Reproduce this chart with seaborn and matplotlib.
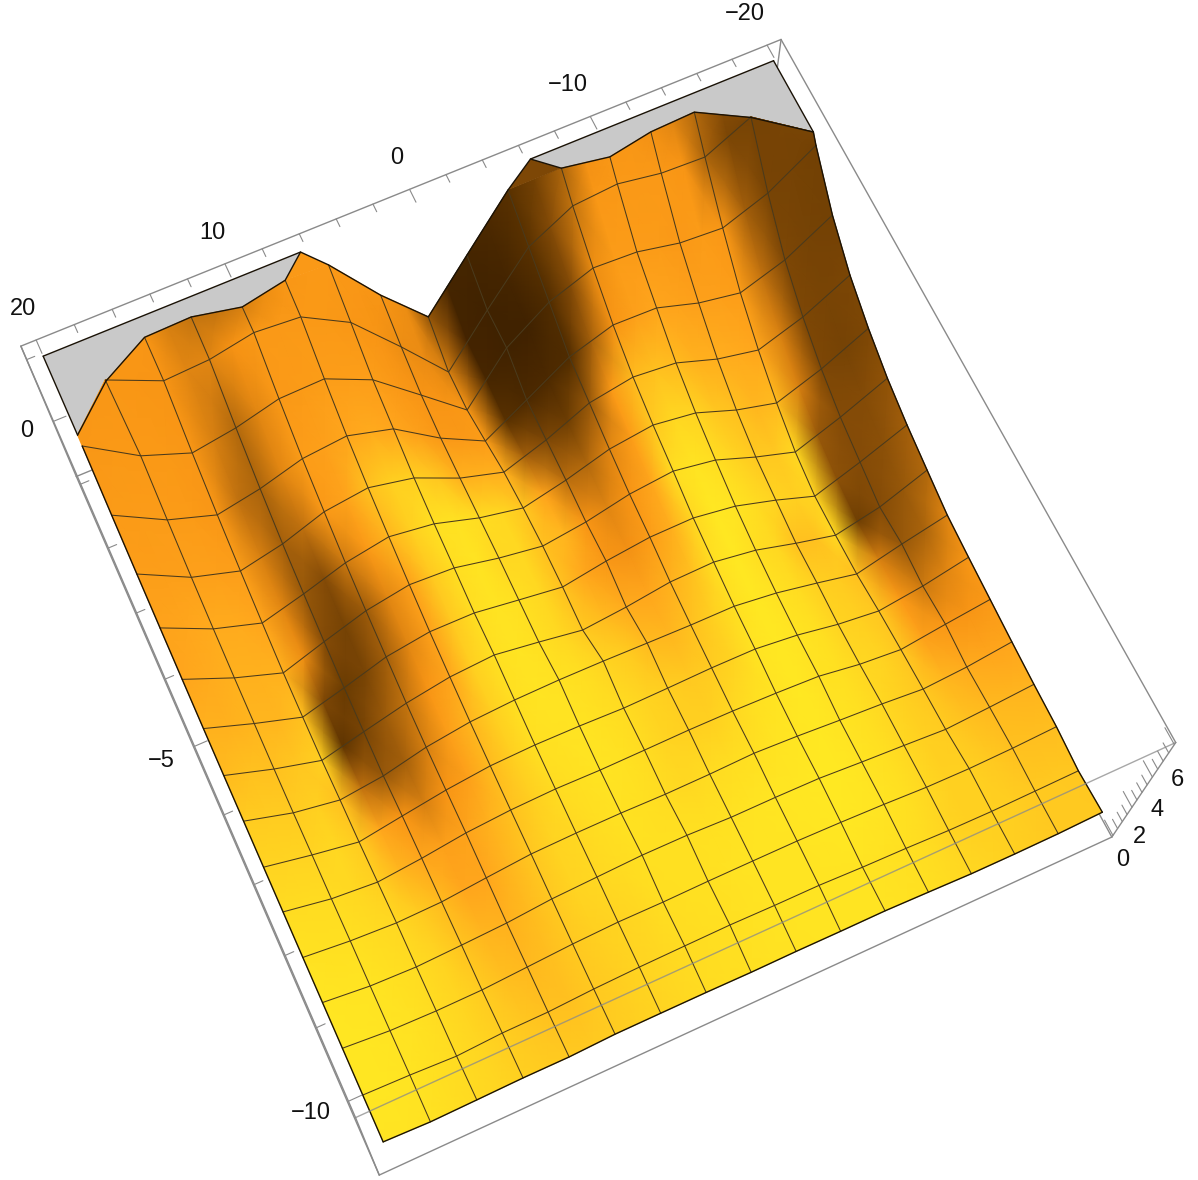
import numpy as np
import matplotlib
matplotlib.use('Agg')
import matplotlib.pyplot as plt
import seaborn as sns

# ---------- data ----------
X_NODES = [20, 17.5, 15, 12.5, 10, 7.5, 5, 2.5, 0, -2.5, -5, -7.5, -10, -12.5, -15, -17.5, -20]
Y_NODES = [-10, -9.3125, -8.625, -7.9375, -7.25, -6.5625, -5.875, -5.1875, -4.5, -3.8125, -3.125,
           -2.4375, -1.75, -1.0625, -0.375]
# heights, row y=-10 first, column x=20 first
Z_ROWS = [
 [1.22,1.06,1.12,1.19,1.17,1.33,1.33,1.32,1.27,1.29,1.26,1.26,1.14,1.01,0.99,1.02,1.14],
 [1.26,1.13,0.92,1.12,1.13,1.32,1.42,1.46,1.49,1.42,1.40,1.25,1.16,1.02,0.97,1.01,1.06],
 [1.34,1.02,0.92,0.94,1.14,1.34,1.45,1.42,1.46,1.46,1.45,1.36,1.23,1.05,0.99,1.05,1.19],
 [1.36,0.99,0.86,0.97,1.11,1.40,1.52,1.64,1.62,1.48,1.48,1.43,1.21,1.02,0.81,1.00,1.23],
 [1.37,1.04,0.85,0.91,1.21,1.48,1.54,1.54,1.47,1.49,1.57,1.41,1.19,1.00,0.74,0.93,1.30],
 [1.45,0.89,0.63,0.92,1.31,1.52,1.60,1.54,1.56,1.59,1.56,1.47,1.33,0.90,0.65,1.04,1.39],
 [1.50,0.92,0.42,0.87,1.30,1.60,1.68,1.64,1.54,1.58,1.64,1.62,1.32,0.85,0.54,0.91,1.48],
 [1.67,0.86,0.39,0.71,1.32,1.69,1.84,1.88,1.85,1.78,1.72,1.71,1.39,0.90,0.37,1.02,1.59],
 [1.83,0.95,0.23,0.85,1.44,1.86,2.02,1.65,1.24,1.48,1.83,1.89,1.52,0.89,0.33,0.88,1.86],
 [2.09,1.17,0.35,1.00,1.71,2.06,2.04,1.70,1.37,1.77,2.05,2.08,1.73,1.08,0.33,1.18,2.14],
 [2.49,1.41,0.55,1.29,1.98,2.37,2.25,1.76,1.40,1.70,2.19,2.42,2.05,1.28,0.62,1.48,2.50],
 [3.01,1.85,1.09,1.68,2.35,2.73,2.42,1.75,1.30,1.80,2.44,2.72,2.42,1.68,1.15,1.94,3.00],
 [3.64,2.42,1.73,2.18,2.88,3.14,2.69,1.74,1.11,1.83,2.75,3.11,2.92,2.26,1.85,2.56,3.63],
 [4.49,3.27,2.55,2.93,3.49,3.68,3.12,1.76,0.71,1.87,3.05,3.68,3.63,3.05,2.71,3.38,4.52],
 [5.77,4.39,3.61,3.91,4.39,4.44,3.54,1.95,0.34,2.49,3.75,4.44,4.35,3.97,3.85,4.56,5.74],
]
# the two far rows run into the clipping plane z=6, so they carry their own x, y, z
X_ROW15 = [20, 17.7, 15, 12.5, 10, 7.5, 5, 2.5, 0, -2.5, -5, -7.5, -10, -12.5, -15, -17.5, -20]
Y_ROW15 = [-0.28,0.32,0.3125,0.3125,0.3125,0.3125,0.3125,0.3125,0.3125,0.3125,0.3125,0.3125,0.3125,0.3125,0.3125,0.32,-0.26]
Z_ROW15 = [6,6,5.06,5.16,5.51,5.37,4.32,2.39,0.35,2.45,4.43,5.37,5.52,5.23,5.16,6,6]
X_ROW16 = [20,17.7,15.1,12.6,10.1,7.6,5,2.5,0,-2.5,-5,-7.5,-10,-12.5,-15,-17.5,-20]
Y_ROW16 = [-0.28,0.30,0.69,0.71,0.56,0.69,1,1,1,1,1,0.69,0.57,0.69,0.72,0.31,-0.26]
Z_ROW16 = [6,6,6,6,6,6,5.07,2.98,1.19,3.18,5.15,6,6,6,6,6,6]
PEAK_X = [6.3, -6.3]          # where the far edge touches z=6
PEAK_SHADE = [62, 28]
CLIP_Z = 6
# brightness (0 dark brown .. 100 yellow) at half-cell steps across x, row y=-10 first
SHADE_ROWS = [
 [98,98,97,95,93,91,88,86,85,85,86,88,90,92,94,95,96,97,97,98,98,98,98,97,96,94,92,90,88,86,85,85,85],
 [99,99,98,96,94,91,87,84,82,82,85,87,90,92,94,95,96,97,98,98,98,98,98,97,96,94,90,88,88,87,85,85,84],
 [99,99,98,97,94,91,86,81,79,81,85,88,90,92,95,96,96,97,98,98,98,99,100,99,98,96,92,88,88,85,82,81,81],
 [99,98,98,96,94,90,83,78,76,80,85,90,92,94,96,96,96,96,97,98,99,99,100,100,98,96,92,88,86,82,79,78,77],
 [97,96,96,94,92,86,80,72,72,78,84,90,92,95,97,96,94,92,94,95,96,98,99,100,98,96,92,88,84,78,74,72,72],
 [94,94,94,92,88,78,72,68,70,76,82,88,94,96,98,97,94,90,88,88,92,96,98,100,97,96,92,90,84,68,60,58,62],
 [90,90,90,92,86,72,58,50,58,68,80,88,96,97,98,96,94,90,87,85,86,90,98,100,98,96,90,88,84,62,48,52,60],
 [86,86,86,88,82,45,35,38,50,66,78,88,96,98,97,95,90,86,80,78,82,88,96,100,97,94,88,86,82,50,35,40,52],
 [80,82,82,84,88,16,26,36,46,58,72,88,96,98,96,92,85,80,74,72,76,82,96,100,95,92,82,82,92,22,30,35,42],
 [76,76,78,78,82,28,20,26,38,52,68,85,95,98,96,92,82,72,60,56,65,75,92,100,98,94,90,88,90,32,30,32,38],
 [72,74,76,76,76,55,30,25,36,52,68,85,95,98,92,92,82,78,58,52,58,72,95,98,95,90,85,85,92,35,30,30,33],
 [70,72,74,74,72,52,35,30,48,62,78,88,96,97,94,92,84,70,44,42,52,65,85,92,90,84,82,78,80,50,28,25,28],
 [66,66,68,68,66,50,38,45,62,70,82,88,88,84,76,76,75,38,28,22,35,62,80,82,80,76,75,74,72,50,28,26,27],
 [63,64,64,63,60,45,40,52,65,68,72,74,72,68,62,62,65,14,8,8,10,38,58,68,72,70,68,68,65,45,28,25,24],
 [60,61,61,61,60,50,42,52,62,63,65,66,66,62,58,58,60,6,3,3,10,30,55,64,64,64,62,64,60,38,26,25,24],
 [60,60,60,59,58,52,52,57,62,62,62,61,60,58,55,54,50,4,3,5,14,30,46,60,62,62,62,58,40,27,25,26,26],
 [60,60,60,59,58,50,46,46,50,55,60,62,62,60,58,55,34,5,5,8,14,24,40,56,60,60,56,52,42,30,27,26,27],
]
X_TICKS = [20,18,16,14,12,10,8,6,4,2,0,-2,-4,-6,-8,-10,-12,-14,-16,-18,-20]
X_LABELS = {20:'20', 10:'10', 0:'0', -10:'\u221210', -20:'\u221220'}
Y_TICKS = [1,0,-1,-2,-3,-4,-5,-6,-7,-8,-9,-10]
Y_LABELS = {0:'0', -5:'\u22125', -10:'\u221210'}
Z_TICKS = [0,0.5,1,1.5,2,2.5,3,3.5,4,4.5,5,5.5,6]
Z_LABELS = {0:'0', 2:'2', 4:'4', 6:'6'}
BOX_X = (-20.8, 20.8); BOX_Y = (-10.22, 1.22); BOX_Z = (-0.12, 6.12)

# ---------- camera ----------
CAMERA = np.array([[-1.7046438e+01,-2.3404780e+01,-9.1356030e+00,4.5761234e+02],
                   [ 6.5247193e+00,-5.1740164e+01,-2.6230650e+01,3.9614973e+02],
                   [-9.9272977e-04, 7.4328288e-03,-1.6014062e-02,1.0]])
def project(x, y, z):
    x, y, z = np.asarray(x, float), np.asarray(y, float), np.asarray(z, float)
    w = CAMERA[2,0]*x + CAMERA[2,1]*y + CAMERA[2,2]*z + CAMERA[2,3]
    return ((CAMERA[0,0]*x + CAMERA[0,1]*y + CAMERA[0,2]*z + CAMERA[0,3])/w,
            (CAMERA[1,0]*x + CAMERA[1,1]*y + CAMERA[1,2]*z + CAMERA[1,3])/w)

sns.set_theme(style='white')
plt.rcParams['font.family'] = ['Liberation Sans', 'DejaVu Sans']
cmap = sns.blend_palette(['#3a1e00','#5a3200','#7f4806','#b56b0e','#f89414','#ffa41c','#ffcb20','#ffe822'], n_colors=256, as_cmap=True)

fig = plt.figure(figsize=(11.98, 11.8), dpi=100, facecolor='white')
ax = fig.add_axes([0, 0, 1, 1])
ax.set_xlim(0, 1198); ax.set_ylim(1180, 0); ax.axis('off')

# node tables
XN = np.vstack([np.tile(X_NODES, (len(Y_NODES), 1)), X_ROW15, X_ROW16])
YN = np.vstack([np.tile(np.array(Y_NODES)[:, None], (1, 17)), Y_ROW15, Y_ROW16])
ZN = np.vstack([np.array(Z_ROWS), Z_ROW15, Z_ROW16])
PX, PY = project(XN, YN, ZN)

# half-cell nodes for the smooth colouring: midpoints of each cell edge on the surface
def halves(A):
    out = np.zeros((A.shape[0], 2*A.shape[1]-1))
    out[:, ::2] = A
    out[:, 1::2] = (A[:, :-1] + A[:, 1:]) / 2
    return out
HX, HY = project(halves(XN), halves(YN), halves(ZN))

GREY = '#8a8a8a'
def box_line(p, q, z, lw=1.0, c=GREY, alpha=1.0):
    px, py = project([p[0], q[0]], [p[1], q[1]], [p[2], q[2]])
    ax.plot(px, py, color=c, lw=lw, zorder=z, solid_capstyle='round', alpha=alpha)

xa, xb = BOX_X; ya, yb = BOX_Y; za, zb = BOX_Z
# lower face and upright edges lie behind the surface
for p, q in [((xa,ya,za),(xb,ya,za)), ((xb,ya,za),(xb,yb,za)), ((xa,ya,za),(xa,yb,za)), ((xa,yb,za),(xb,yb,za)),
             ((xa,ya,za),(xa,ya,zb)), ((xb,ya,za),(xb,ya,zb)), ((xa,yb,za),(xa,yb,zb)), ((xb,yb,za),(xb,yb,zb))]:
    box_line(p, q, 1)

# grey clipped parts of the plane z=6
def clip_poly(xs, ys):
    px, py = project(xs, ys, np.full(len(xs), CLIP_Z))
    ax.fill(px, py, color='#c9c9c9', lw=0, zorder=2)
clip_poly([20, PEAK_X[0]] + X_ROW16[5::-1], [1, 1] + Y_ROW16[5::-1])
clip_poly([PEAK_X[1], -20] + X_ROW16[:10:-1], [1, 1] + Y_ROW16[:10:-1])

# surface
ax.pcolormesh(HX, HY, np.array(SHADE_ROWS, float), shading='gouraud', cmap=cmap, vmin=0, vmax=100, zorder=3)
for k, (i, i2) in enumerate([(5, 6), (10, 11)]):
    tx = [X_ROW16[i], PEAK_X[k], X_ROW16[i2]]
    ty = [Y_ROW16[i], 1, Y_ROW16[i2]]
    tz = [Z_ROW16[i], CLIP_Z, Z_ROW16[i2]]
    px, py = project(tx, ty, tz)
    ax.fill(px, py, color=cmap(PEAK_SHADE[k]/100), lw=0, zorder=3)

MESH = '#4a3a1c'
for r in range(1, 15):
    ax.plot(PX[r], PY[r], color=MESH, lw=0.75, zorder=4)
ax.plot(PX[15, 1:16], PY[15, 1:16], color=MESH, lw=0.75, zorder=4)
for j in range(1, 16):
    ax.plot(PX[:, j], PY[:, j], color=MESH, lw=0.75, zorder=4)

# outline
EDGE = '#1a1206'
ax.plot(PX[0], PY[0], color=EDGE, lw=1.0, zorder=5)
ax.plot(PX[:15, 0], PY[:15, 0], color=EDGE, lw=1.0, zorder=5)
ax.plot(PX[:17, 16], PY[:17, 16], color=EDGE, lw=1.0, zorder=5)
ox = X_ROW16[:6] + [PEAK_X[0]] + X_ROW16[6:11] + [PEAK_X[1]] + X_ROW16[11:]
oy = Y_ROW16[:6] + [1] + Y_ROW16[6:11] + [1] + Y_ROW16[11:]
oz = Z_ROW16[:6] + [CLIP_Z] + Z_ROW16[6:11] + [CLIP_Z] + Z_ROW16[11:]
px, py = project(ox, oy, oz)
ax.plot(px, py, color=EDGE, lw=1.0, zorder=5)
for a, b in [((20, 1), (PEAK_X[0], 1)), ((PEAK_X[1], 1), (-20, 1)),
             ((20, 1), (X_ROW16[0], Y_ROW16[0])), ((-20, 1), (X_ROW16[-1], Y_ROW16[-1]))]:
    box_line((a[0], a[1], CLIP_Z), (b[0], b[1], CLIP_Z), 5, lw=1.0, c=EDGE)

# upper face of the box, in front of everything
for p, q, al in [((xb,yb,zb),(xa,yb,zb),1), ((xa,yb,zb),(xa,ya,zb),1), ((xa,ya,zb),(xb,ya,zb),0.75), ((xb,ya,zb),(xb,yb,zb),1)]:
    box_line(p, q, 6, alpha=al)

def label(pos, txt, dx, dy):
    ax.annotate(txt, xy=pos, xytext=(dx, -dy), textcoords='offset pixels', fontsize=17,
                ha='center', va='center', color='#111111', zorder=7)

for t in X_TICKS:
    major = t % 10 == 0
    L = 0.22 if major else 0.13
    box_line((t, yb, zb), (t, yb-L, zb), 6, lw=0.8)
    if t in X_LABELS:
        label(project(t, yb, zb), X_LABELS[t], -22 if t < 0 else -13, -31)
for t in Y_TICKS:
    major = t % 5 == 0
    L = 0.65 if major else 0.42
    box_line((xb, t, zb), (xb-L, t, zb), 6, lw=0.8)
    if t in Y_LABELS:
        label(project(xb, t, zb), Y_LABELS[t], {0:-27, -5:-33, -10:-38}[t], {0:10, -5:15, -10:12}[t])
for t in Z_TICKS:
    major = t % 2 == 0
    L = 0.25 if major else 0.15
    box_line((xa, ya, t), (xa, ya+L, t), 6, lw=0.8)
    if t in Z_LABELS:
        label(project(xa, ya, t), Z_LABELS[t], {0:10, 2:7, 4:5, 6:3}[t], {0:25, 2:30, 4:33, 6:35}[t])

fig.savefig('out.png', dpi=100, facecolor='white')
